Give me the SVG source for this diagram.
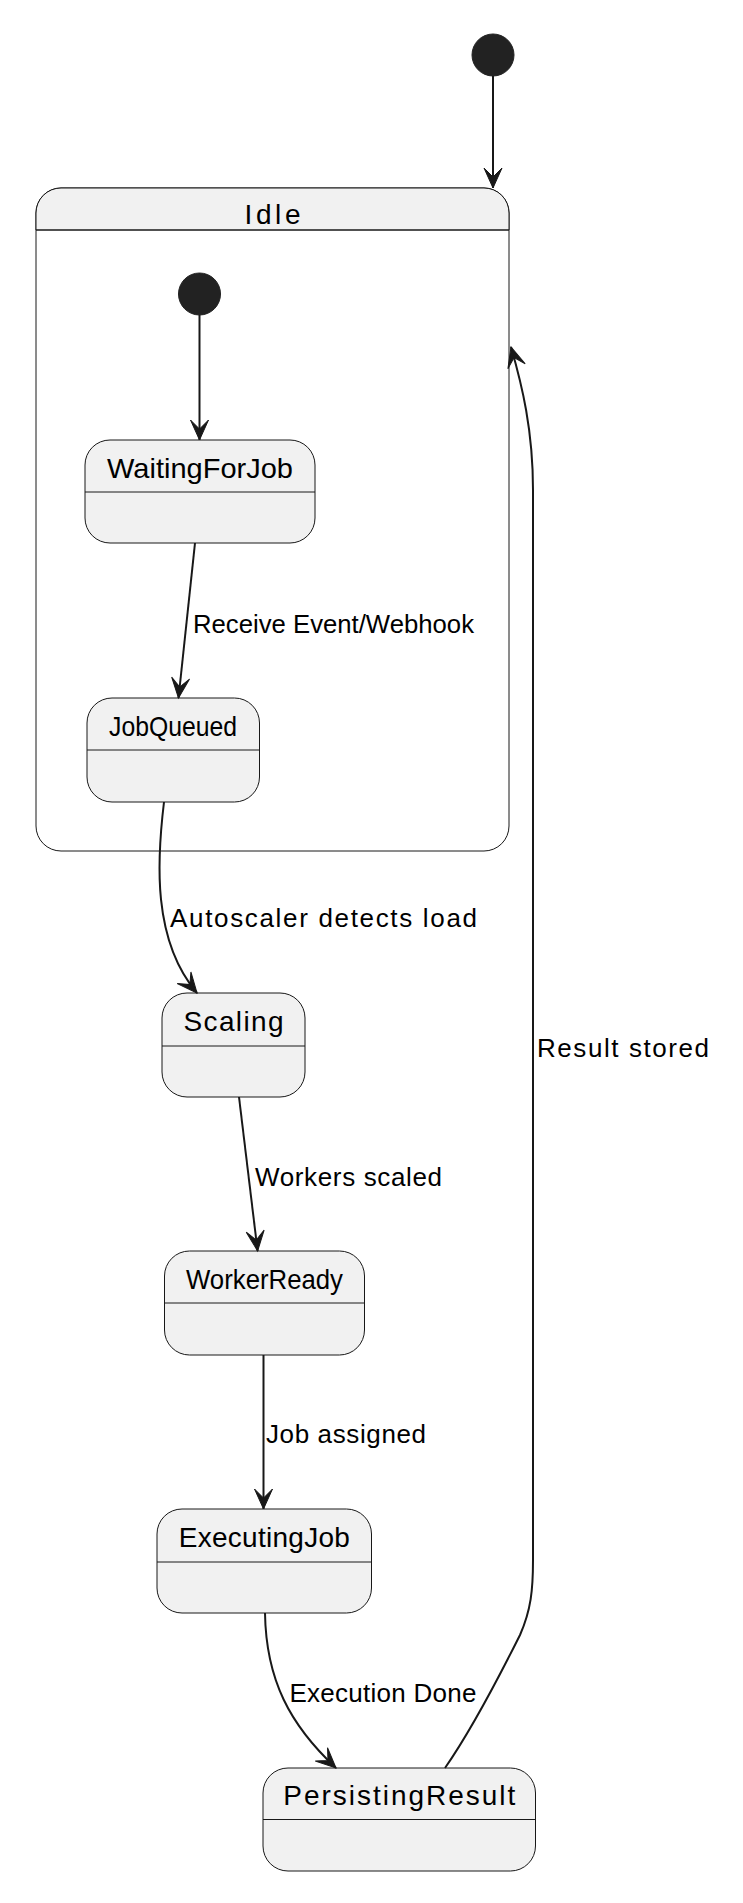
<svg xmlns="http://www.w3.org/2000/svg" width="743" height="1903" viewBox="0 0 743 1903">
<style>
.box{fill:#F1F1F1;stroke:#181818;stroke-width:1}
.div{stroke:#181818;stroke-width:1}
.init{fill:#222222;stroke:#222222;stroke-width:1}
.edge{fill:none;stroke:#181818;stroke-width:2}
.name{font-family:"Liberation Sans",Arial,sans-serif;font-size:28px;fill:#000000;text-anchor:middle}
.lbl{font-family:"Liberation Sans",Arial,sans-serif;font-size:26px;fill:#000000}
</style>
<defs>
<marker id="arr" viewBox="-22 -11 24 22" refX="0" refY="0" markerWidth="24" markerHeight="22" markerUnits="userSpaceOnUse" orient="auto">
<path d="M0,0 L-20,-9 L-11,0 L-20,9 Z" fill="#181818" stroke="#181818" stroke-width="1" stroke-linejoin="miter"/>
</marker>
</defs>
<rect width="743" height="1903" fill="#FFFFFF"/>

<g id="Idle">
<rect x="36" y="188" width="473" height="663" rx="25" ry="25" fill="#FFFFFF" stroke="#181818" stroke-width="1"/>
<path d="M36,230 L36,213 A25,25 0 0 1 61,188 L484,188 A25,25 0 0 1 509,213 L509,230 Z" fill="#F1F1F1" stroke="#181818" stroke-width="1"/>
<line class="div" x1="36" y1="230" x2="509" y2="230"/>
<text class="name" x="272.5" y="224" textLength="56" lengthAdjust="spacing">Idle</text>
</g>

<g id="start">
<circle class="init" cx="493" cy="55" r="21"/>
</g>

<g id="Idle_start">
<circle class="init" cx="199.5" cy="294" r="21"/>
</g>

<g id="WaitingForJob">
<rect class="box" x="85" y="440" width="230" height="103" rx="25" ry="25"/>
<line class="div" x1="85" y1="492" x2="315" y2="492"/>
<text class="name" x="200" y="478" textLength="186" lengthAdjust="spacingAndGlyphs">WaitingForJob</text>
</g>

<g id="JobQueued">
<rect class="box" x="87" y="698" width="172.5" height="104" rx="25" ry="25"/>
<line class="div" x1="87" y1="750" x2="259.5" y2="750"/>
<text class="name" x="173" y="736" textLength="128" lengthAdjust="spacingAndGlyphs">JobQueued</text>
</g>

<g id="Scaling">
<rect class="box" x="162" y="993" width="143" height="104" rx="25" ry="25"/>
<line class="div" x1="162" y1="1046" x2="305" y2="1046"/>
<text class="name" x="233.5" y="1031" textLength="100" lengthAdjust="spacing">Scaling</text>
</g>

<g id="WorkerReady">
<rect class="box" x="164.5" y="1251" width="200" height="104" rx="25" ry="25"/>
<line class="div" x1="164.5" y1="1303" x2="364.5" y2="1303"/>
<text class="name" x="264.5" y="1289" textLength="157" lengthAdjust="spacingAndGlyphs">WorkerReady</text>
</g>

<g id="ExecutingJob">
<rect class="box" x="157" y="1509" width="214.5" height="104" rx="25" ry="25"/>
<line class="div" x1="157" y1="1562" x2="371.5" y2="1562"/>
<text class="name" x="264.3" y="1547" textLength="171" lengthAdjust="spacing">ExecutingJob</text>
</g>

<g id="PersistingResult">
<rect class="box" x="263" y="1768" width="272.5" height="103" rx="25" ry="25"/>
<line class="div" x1="263" y1="1819.5" x2="535.5" y2="1819.5"/>
<text class="name" x="399.3" y="1805" textLength="232" lengthAdjust="spacing">PersistingResult</text>
</g>

<g id="connectors">
<path class="edge" d="M493,76 L493,188" marker-end="url(#arr)"/>
<path class="edge" d="M199.5,315 L199.5,440" marker-end="url(#arr)"/>
<path class="edge" d="M195,543 L178.5,698" marker-end="url(#arr)"/>
<path class="edge" d="M164,802 C157,860 152,940 197,993" marker-end="url(#arr)"/>
<path class="edge" d="M239,1097 L257.6,1251" marker-end="url(#arr)"/>
<path class="edge" d="M263.5,1355 L263.5,1509" marker-end="url(#arr)"/>
<path class="edge" d="M265,1613 C266,1680 290,1725 336,1768" marker-end="url(#arr)"/>
<path class="edge" d="M445,1768 C475,1725 505,1665 520,1635 C531,1610 533,1590 533,1560 L533,490 C533,430 522,385 511,347" marker-end="url(#arr)"/>
<text class="lbl" x="193" y="633" textLength="281" lengthAdjust="spacingAndGlyphs">Receive Event/Webhook</text>
<text class="lbl" x="170" y="927" textLength="307" lengthAdjust="spacing">Autoscaler detects load</text>
<text class="lbl" x="255" y="1186" textLength="187" lengthAdjust="spacing">Workers scaled</text>
<text class="lbl" x="266" y="1443" textLength="160" lengthAdjust="spacing">Job assigned</text>
<text class="lbl" x="289.5" y="1702" textLength="187" lengthAdjust="spacing">Execution Done</text>
<text class="lbl" x="537" y="1057" textLength="172" lengthAdjust="spacing">Result stored</text>
</g>
</svg>
